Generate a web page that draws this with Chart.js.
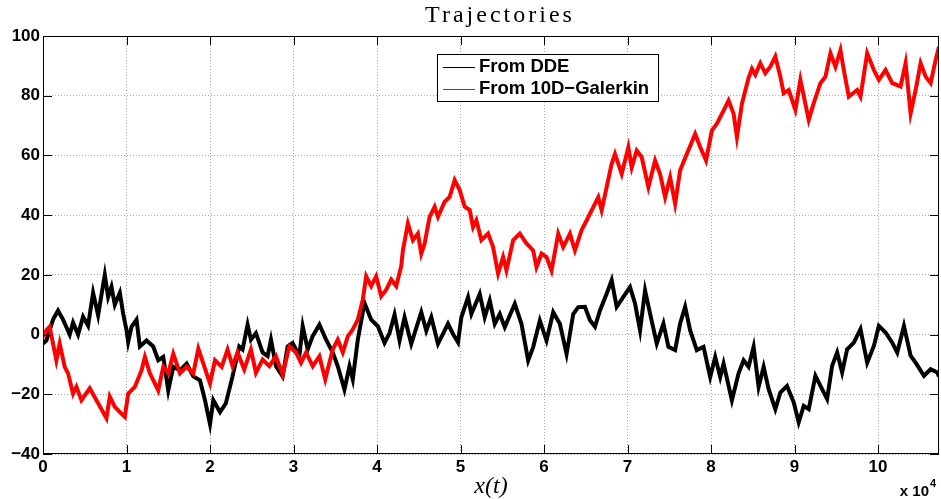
<!DOCTYPE html>
<html><head><meta charset="utf-8">
<script src="https://cdn.jsdelivr.net/npm/chart.js@4.4.1/dist/chart.umd.min.js"></script>
<style>html,body{margin:0;padding:0;background:#fff;}canvas{display:block;}</style>
</head><body>
<canvas id="c" width="941" height="499"></canvas>
<script>
const chartTitle = 'Trajectories';
const xAxisTitle = 'x(t)';
const xTicks = [0,1,2,3,4,5,6,7,8,9,10];
const yTicks = [-40,-20,0,20,40,60,80,100];
const xMin = 0, xMax = 10.73, yMin = -40, yMax = 100;
const seriesNames = ['From DDE', 'From 10D\u2212Galerkin'];
const seriesColors = ['#000000', '#ff0000'];

// x in units of 10^4
const ddeSeries = [[0,-3],[0.04,-2],[0.12,5],[0.18,8],[0.24,5],[0.32,0],[0.36,4],[0.42,0],[0.48,6],[0.54,3],[0.60,14],[0.66,6.5],[0.74,20],[0.78,12.6],[0.82,16],[0.86,10],[0.92,14],[0.96,7],[1.0,1.5],[1.02,-2.5],[1.06,2.6],[1.12,5],[1.16,-4],[1.24,-2],[1.32,-4],[1.38,-8.6],[1.44,-7.5],[1.50,-18.7],[1.56,-10.8],[1.64,-12],[1.72,-9.7],[1.80,-14],[1.88,-15.3],[1.94,-22],[2.0,-30],[2.04,-22],[2.12,-26],[2.19,-23],[2.27,-14],[2.35,-4],[2.39,-5],[2.45,3.3],[2.49,-1.7],[2.55,0.5],[2.63,-6],[2.69,-7.2],[2.73,-1.7],[2.79,-10.6],[2.87,-14],[2.93,-4],[2.99,-2.8],[3.07,-7.2],[3.11,2.8],[3.17,-5],[3.23,-0.5],[3.31,3.3],[3.39,-1.7],[3.47,-6],[3.53,-10.6],[3.61,-18.4],[3.67,-10.6],[3.71,-15],[3.77,-1.7],[3.85,10.6],[3.93,5],[4.01,2.8],[4.09,-2.8],[4.15,0.5],[4.21,6.7],[4.27,-2],[4.33,5.8],[4.41,-3.1],[4.53,7.5],[4.59,1.3],[4.65,5.8],[4.73,-3.1],[4.85,3.6],[4.91,0.2],[4.97,-2.6],[5.01,5.8],[5.09,12.5],[5.13,6.9],[5.23,13.6],[5.29,5.8],[5.35,11.4],[5.41,3.6],[5.47,6.9],[5.53,2.5],[5.65,10.3],[5.73,3.6],[5.81,-8.7],[5.87,-4.2],[5.95,4.7],[6.03,-2],[6.11,7.5],[6.19,3.6],[6.27,-6.5],[6.35,6.9],[6.41,9.2],[6.49,9.3],[6.55,4.8],[6.61,2.6],[6.67,8.1],[6.75,13.7],[6.81,18.2],[6.87,9.3],[6.95,12.6],[7.03,15.9],[7.09,10.4],[7.15,1.4],[7.21,14.8],[7.27,7],[7.35,-3],[7.43,3.7],[7.49,-4.1],[7.57,-5.2],[7.63,3.7],[7.69,9.3],[7.75,1.4],[7.83,-5.2],[7.91,-4.1],[7.99,-14.2],[8.05,-7.5],[8.11,-14.2],[8.15,-9.7],[8.25,-22],[8.33,-13],[8.39,-8.6],[8.45,-10.8],[8.51,-4.1],[8.57,-17.5],[8.63,-10.8],[8.69,-18.3],[8.77,-25],[8.83,-19.4],[8.91,-17.2],[8.99,-22.7],[9.05,-29.4],[9.11,-23.9],[9.17,-25],[9.25,-13.8],[9.33,-18.3],[9.39,-21.6],[9.45,-10.5],[9.51,-6],[9.57,-12.7],[9.63,-4.9],[9.71,-2.7],[9.79,1.8],[9.87,-9.4],[9.95,-3.8],[10.01,2.9],[10.09,0.7],[10.17,-2.7],[10.23,-6],[10.31,2.9],[10.39,-7.1],[10.45,-9.4],[10.55,-13.8],[10.63,-11.6],[10.71,-12.7],[10.73,-14]];

const galerkinSeries = [[0,-0.8],[0.04,1.5],[0.08,2.6],[0.12,-3],[0.16,-8.6],[0.2,-3],[0.26,-10.8],[0.30,-13],[0.36,-19.8],[0.40,-17.5],[0.46,-22],[0.56,-18],[0.64,-22],[0.76,-28],[0.80,-20.8],[0.86,-24.2],[0.92,-26],[0.98,-27.6],[1.02,-19.8],[1.10,-17.5],[1.18,-12],[1.22,-7.5],[1.28,-13],[1.38,-18.7],[1.44,-10.8],[1.50,-13],[1.56,-6.4],[1.64,-13],[1.72,-10.8],[1.80,-13],[1.86,-4.7],[1.92,-9.7],[2.00,-16.4],[2.06,-8.6],[2.14,-10.8],[2.21,-5],[2.27,-10.6],[2.33,-6],[2.41,-11.7],[2.49,-5],[2.55,-12.8],[2.63,-8.4],[2.71,-10.6],[2.79,-7.3],[2.87,-13.4],[2.95,-3.9],[3.03,-6],[3.09,-9.5],[3.15,-6],[3.23,-10.6],[3.31,-7.3],[3.38,-15],[3.47,-5],[3.53,-1.7],[3.59,-6],[3.65,-0.6],[3.71,1.7],[3.77,5],[3.83,11.7],[3.87,19.5],[3.93,16.2],[3.99,19.5],[4.05,12.8],[4.11,15],[4.17,18.4],[4.23,16.2],[4.29,22.9],[4.31,28.2],[4.37,37.2],[4.43,31.6],[4.49,33.8],[4.53,27.1],[4.57,30.5],[4.63,39.4],[4.69,42.8],[4.73,39.4],[4.81,44.5],[4.87,46.1],[4.93,51.7],[4.99,48.4],[5.05,42.8],[5.11,41.7],[5.15,36],[5.19,38.3],[5.25,31.6],[5.33,33.8],[5.39,29.3],[5.45,20.4],[5.51,26],[5.55,21.5],[5.63,31.6],[5.71,33.8],[5.79,30.5],[5.87,28.2],[5.91,22.6],[5.97,27.1],[6.03,26],[6.09,21.5],[6.17,33.8],[6.23,29.3],[6.31,33.8],[6.37,28.2],[6.45,35],[6.51,38.2],[6.59,42.7],[6.65,46],[6.69,41.6],[6.75,49.4],[6.81,57.2],[6.85,60.5],[6.93,53.8],[7.01,62.7],[7.05,56],[7.11,61.6],[7.17,59.4],[7.25,49.4],[7.33,58.3],[7.39,53.8],[7.45,46],[7.51,52.7],[7.57,43.8],[7.63,55],[7.71,60.5],[7.81,67.2],[7.87,62.8],[7.94,58.3],[8.01,68.3],[8.07,70.6],[8.15,75],[8.21,78.4],[8.27,74],[8.31,66.1],[8.37,77.3],[8.41,81.7],[8.45,86],[8.49,89],[8.53,87],[8.59,90.9],[8.65,87.5],[8.71,89.7],[8.77,93.1],[8.83,86.4],[8.87,80.8],[8.93,81.9],[9.01,75.3],[9.07,85.3],[9.17,71.9],[9.23,77.5],[9.31,84.2],[9.37,86.4],[9.43,94.2],[9.49,89.7],[9.55,95.3],[9.59,88.6],[9.65,79.7],[9.75,81.9],[9.79,79.7],[9.87,94.2],[9.95,88.6],[10.01,85.3],[10.09,88.6],[10.17,84.2],[10.27,83.1],[10.33,90.9],[10.39,74.1],[10.45,81.9],[10.51,90.9],[10.57,86.4],[10.63,84.2],[10.69,92],[10.73,96.4]];

const toPts = a => a.map(p => ({x: p[0], y: p[1]}));
const tickFont = {family: '"Liberation Sans", Arial, sans-serif', weight: 'bold', size: 17};

const decor = {
  id: 'decor',
  afterDraw(chart) {
    const ctx = chart.ctx, a = chart.chartArea;
    const xs = chart.scales.x, ys = chart.scales.y;
    ctx.save();
    // frame
    ctx.strokeStyle = '#000'; ctx.lineWidth = 1;
    ctx.strokeRect(Math.round(a.left) + 0.5, Math.round(a.top) + 0.5, Math.round(a.right - a.left) - 1, Math.round(a.bottom - a.top) - 1);
    // inward ticks
    const tl = 9;
    ctx.beginPath();
    xTicks.forEach(v => {
      const px = Math.round(xs.getPixelForValue(v)) + 0.5;
      ctx.moveTo(px, a.bottom); ctx.lineTo(px, a.bottom - tl);
      ctx.moveTo(px, a.top); ctx.lineTo(px, a.top + tl);
    });
    yTicks.forEach(v => {
      const py = Math.round(ys.getPixelForValue(v)) + 0.5;
      ctx.moveTo(a.left, py); ctx.lineTo(a.left + tl, py);
      ctx.moveTo(a.right, py); ctx.lineTo(a.right - tl, py);
    });
    ctx.stroke();
    // legend
    const lx = 437.5, ly = 54.5, lw = 221, lh = 47;
    ctx.fillStyle = '#fff'; ctx.fillRect(lx, ly, lw, lh);
    ctx.strokeStyle = '#000'; ctx.lineWidth = 1; ctx.strokeRect(lx, ly, lw, lh);
    ctx.font = 'bold 18.5px "Liberation Sans", Arial, sans-serif';
    ctx.textBaseline = 'middle'; ctx.textAlign = 'left';
    const rows = [67, 89];
    seriesNames.forEach((n, i) => {
      ctx.strokeStyle = seriesColors[i]; ctx.lineWidth = 1;
      ctx.beginPath(); ctx.moveTo(443, rows[i] + 0.5); ctx.lineTo(475, rows[i] + 0.5); ctx.stroke();
      ctx.fillStyle = '#000'; ctx.fillText(n, 479, rows[i]);
    });
    // title
    ctx.font = '24px "Liberation Serif", "Times New Roman", serif';
    ctx.textAlign = 'center'; ctx.textBaseline = 'middle';
    ctx.letterSpacing = '3px';
    ctx.fillText(chartTitle, (a.left + a.right) / 2 + 9, 16);
    ctx.letterSpacing = '0px';
    // exponent label
    ctx.textAlign = 'right'; ctx.textBaseline = 'middle';
    ctx.font = 'bold 15px "Liberation Sans", Arial, sans-serif';
    ctx.fillText('x 10', 929, 492);
    ctx.textAlign = 'left';
    ctx.font = 'bold 11px "Liberation Sans", Arial, sans-serif';
    ctx.fillText('4', 930, 484);
    ctx.restore();
  }
};

new Chart(document.getElementById('c'), {
  type: 'line',
  data: {
    datasets: [
      {label: seriesNames[0], data: toPts(ddeSeries), borderColor: seriesColors[0], borderWidth: 4, pointRadius: 0, tension: 0, order: 1},
      {label: seriesNames[1], data: toPts(galerkinSeries), borderColor: seriesColors[1], borderWidth: 4, pointRadius: 0, tension: 0, order: 0}
    ]
  },
  options: {
    responsive: false, animation: false, devicePixelRatio: 1,
    layout: {padding: {left: 0, right: 2, top: 36, bottom: 0}},
    plugins: {legend: {display: false}, title: {display: false}, tooltip: {enabled: false}},
    scales: {
      x: {
        type: 'linear', min: xMin, max: xMax,
        afterBuildTicks: s => { s.ticks = xTicks.map(v => ({value: v})); },
        afterFit: s => { s.height = 45; },
        grid: {color: '#a8a8a8', lineWidth: 1, drawTicks: false},
        border: {display: false, dash: [1, 2]},
        ticks: {font: tickFont, color: '#000', padding: 3, maxRotation: 0, autoSkip: false, callback: v => String(v)},
        title: {display: true, text: xAxisTitle, color: '#000', font: {family: '"Liberation Serif", "Times New Roman", serif', style: 'italic', size: 24, lineHeight: 1}, padding: {top: 0, bottom: 0}}
      },
      y: {
        type: 'linear', min: yMin, max: yMax,
        afterBuildTicks: s => { s.ticks = yTicks.map(v => ({value: v})); },
        afterFit: s => { s.width = 43; },
        grid: {color: '#a8a8a8', lineWidth: 1, drawTicks: false},
        border: {display: false, dash: [1, 2]},
        ticks: {font: tickFont, color: '#000', padding: 3, autoSkip: false, callback: v => (v < 0 ? '\u2212' + Math.abs(v) : String(v))}
      }
    }
  },
  plugins: [decor]
});
</script>
</body></html>
